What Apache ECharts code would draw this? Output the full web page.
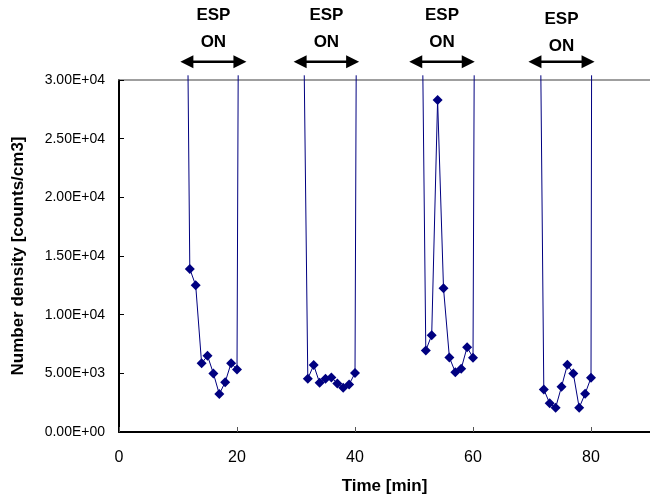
<!DOCTYPE html>
<html>
<head>
<meta charset="utf-8">
<script src="https://cdn.jsdelivr.net/npm/echarts@6/dist/echarts.min.js"></script>
<style>
html,body{margin:0;padding:0;background:#fff;}
#chart{width:650px;height:500px;}
</style>
</head>
<body>
<div id="chart"></div>
<script>
// ESP-on measurement segments (time in min, number density in counts/cm3)
const seg1Time = [12, 13, 14, 15, 16, 17, 18, 19, 20];
const seg1Density = [13900, 12500, 5850, 6500, 4990, 3230, 4250, 5870, 5330];
const seg2Time = [32, 33, 34, 35, 36, 37, 38, 39, 40];
const seg2Density = [4540, 5700, 4200, 4540, 4650, 4140, 3770, 4050, 5020];
const seg3Time = [52, 53, 54, 55, 56, 57, 58, 59, 60];
const seg3Density = [6950, 8250, 28300, 12250, 6350, 5100, 5390, 7230, 6330];
const seg4Time = [72, 73, 74, 75, 76, 77, 78, 79, 80];
const seg4Density = [3630, 2440, 2070, 3860, 5730, 4990, 2070, 3260, 4620];
// off-scale readings just before/after each segment (beyond the 3.00E+04 axis top)
const offScaleEntryTime = [11.7, 31.4, 51.5, 71.5];
const offScaleExitTime = [20.2, 40.2, 60.2, 80.1];
const offScaleLevel = 30400;
// ESP ON annotation arrows (time span)
const espArrowFrom = [10.4, 29.6, 49.2, 69.4];
const espArrowTo = [21.6, 40.7, 60.3, 80.6];
const espArrowLevel = 31550;
const espLabelLift = [33, 33, 33, 29];
const yTicks = [0, 5000, 10000, 15000, 20000, 25000, 30000];
const xTicks = [0, 20, 40, 60, 80];

const segTimes = [seg1Time, seg2Time, seg3Time, seg4Time];
const segDensities = [seg1Density, seg2Density, seg3Density, seg4Density];

function sci(v) {
  if (v === 0) return '0.00E+00';
  const e = Math.floor(Math.log10(Math.abs(v)) + 1e-9);
  const m = v / Math.pow(10, e);
  return m.toFixed(2) + 'E' + (e < 0 ? '-' : '+') + String(Math.abs(e)).padStart(2, '0');
}

const NAVY = '#000080';
const FONT = '"Liberation Sans", Arial, sans-serif';

const series = segTimes.map(function (t, i) {
  const data = [{ value: [offScaleEntryTime[i], offScaleLevel], symbol: 'none' }];
  t.forEach(function (x, j) { data.push([x, segDensities[i][j]]); });
  data.push({ value: [offScaleExitTime[i], offScaleLevel], symbol: 'none' });
  return {
    type: 'line',
    xAxisIndex: 0,
    yAxisIndex: 0,
    data: data,
    clip: false,
    symbol: 'diamond',
    symbolSize: 10,
    lineStyle: { color: NAVY, width: 1 },
    itemStyle: { color: NAVY },
    emphasis: { disabled: true },
    animation: false
  };
});

const chart = echarts.init(document.getElementById('chart'), null, { renderer: 'canvas' });
chart.setOption({
  backgroundColor: '#ffffff',
  animation: false,
  grid: { left: 119, right: 0, top: 80, bottom: 67 },
  xAxis: [{
    type: 'value',
    min: 0, max: 90, interval: 20,
    position: 'bottom',
    name: 'Time [min]',
    nameLocation: 'middle',
    nameGap: 46,
    nameTextStyle: { fontFamily: FONT, fontWeight: 'bold', fontSize: 17, color: '#000' },
    axisLine: { show: true, onZero: false, lineStyle: { color: '#000', width: 2 } },
    axisTick: { show: true, inside: true, length: 5, lineStyle: { color: '#555', width: 1 } },
    axisLabel: {
      margin: 18, fontFamily: FONT, fontSize: 16, color: '#000',
      showMaxLabel: false,
      formatter: function (v) { return xTicks.indexOf(v) >= 0 ? String(v) : ''; }
    },
    splitLine: { show: false }
  }, {
    type: 'value',
    min: 0, max: 90,
    position: 'top',
    axisLine: { show: true, onZero: false, lineStyle: { color: '#808080', width: 1.5 } },
    axisTick: { show: false },
    axisLabel: { show: false },
    splitLine: { show: false }
  }],
  yAxis: {
    type: 'value',
    min: 0, max: 30000, interval: 5000,
    name: 'Number density [counts/cm3]',
    nameLocation: 'middle',
    nameGap: 92,
    nameTextStyle: { fontFamily: FONT, fontWeight: 'bold', fontSize: 17, color: '#000' },
    axisLine: { show: true, onZero: false, lineStyle: { color: '#000', width: 2 } },
    axisTick: { show: true, inside: true, length: 5, lineStyle: { color: '#000', width: 1 } },
    axisLabel: {
      margin: 14, fontFamily: FONT, fontSize: 14, color: '#000',
      formatter: function (v) { return yTicks.indexOf(v) >= 0 ? sci(v) : ''; }
    },
    splitLine: { show: false }
  },
  series: series
});

// ESP ON annotations positioned through the chart's own scales
const graphics = [];
espArrowFrom.forEach(function (x0, i) {
  const p0 = chart.convertToPixel({ xAxisIndex: 0, yAxisIndex: 0 }, [x0, espArrowLevel]);
  const p1 = chart.convertToPixel({ xAxisIndex: 0, yAxisIndex: 0 }, [espArrowTo[i], espArrowLevel]);
  const y = p0[1];
  const L = 13, H = 6.5;
  graphics.push({
    type: 'line', silent: true,
    shape: { x1: p0[0] + L - 1, y1: y, x2: p1[0] - L + 1, y2: y },
    style: { stroke: '#000', lineWidth: 2.5 }
  });
  graphics.push({
    type: 'polygon', silent: true,
    shape: { points: [[p0[0], y], [p0[0] + L, y - H], [p0[0] + L, y + H]] },
    style: { fill: '#000' }
  });
  graphics.push({
    type: 'polygon', silent: true,
    shape: { points: [[p1[0], y], [p1[0] - L, y - H], [p1[0] - L, y + H]] },
    style: { fill: '#000' }
  });
  graphics.push({
    type: 'text', silent: true,
    x: (p0[0] + p1[0]) / 2,
    y: y - espLabelLift[i],
    style: {
      text: 'ESP\nON',
      fontFamily: FONT, fontWeight: 'bold', fontSize: 17,
      lineHeight: 27,
      fill: '#000',
      align: 'center', verticalAlign: 'middle'
    }
  });
});
chart.setOption({ graphic: graphics });
</script>
</body>
</html>
